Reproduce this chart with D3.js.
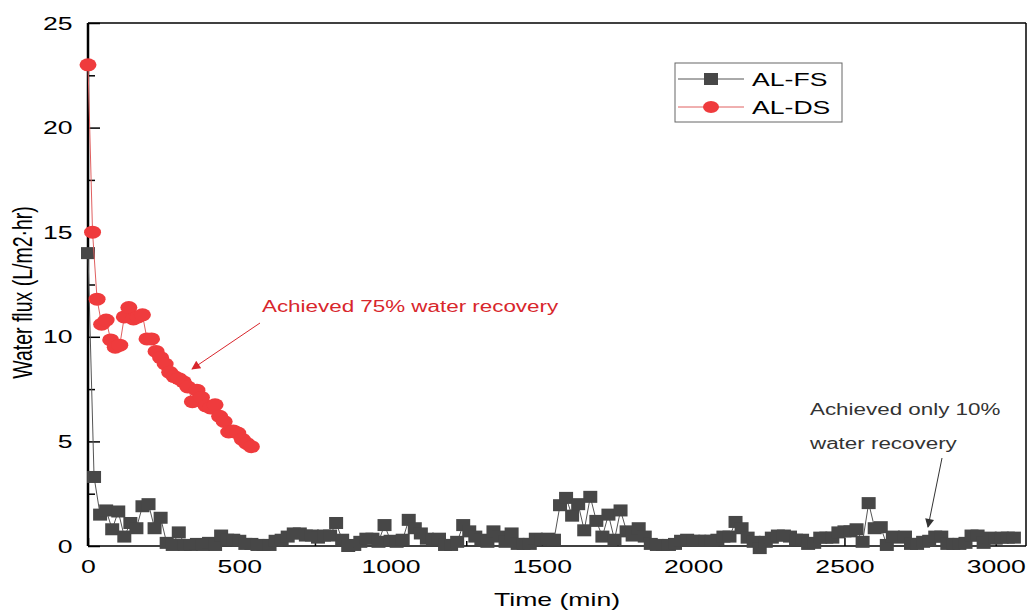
<!DOCTYPE html>
<html>
<head>
<meta charset="utf-8">
<script src="https://cdn.jsdelivr.net/npm/d3@7"></script>
<style>
  body { margin: 0; background: #fff; }
  text { font-family: "Liberation Sans", Arial, sans-serif; }
</style>
</head>
<body>
<svg width="1031" height="611"></svg>
<script>
// AL-FS: sampled every 20 min, AL-DS: every 15 min
const fsStep = 20;
const fsFlux = [
  14.0, 3.3, 1.5, 1.7, 0.8, 1.65, 0.45, 1.1, 0.85, 1.9, 2.0, 0.85, 1.35, 0.15, 0.05, 0.65, 0.05, 0.05, 0.1, 0.05, 0.15, 0.05, 0.5, 0.3, 0.3,
  0.25, 0.1, 0.1, 0.05, 0.05, 0.05, 0.25, 0.3, 0.45, 0.6, 0.6, 0.5, 0.5, 0.4, 0.5, 0.5, 1.1, 0.3, 0.0, 0.05, 0.2, 0.35, 0.35, 0.2, 1.0, 0.25,
  0.2, 0.3, 1.25, 0.85, 0.6, 0.35, 0.3, 0.35, 0.05, 0.05, 0.2, 1.0, 0.7, 0.45, 0.3, 0.2, 0.7, 0.45, 0.2, 0.6, 0.1, 0.1, 0.1, 0.35, 0.3, 0.35,
  0.3, 1.95, 2.3, 1.45, 2.0, 0.75, 2.35, 1.2, 0.45, 1.5, 0.3, 1.7, 0.7, 0.5, 0.85, 0.45, 0.1, 0.05, 0.05, 0.05, 0.1, 0.25, 0.3, 0.25, 0.25,
  0.25, 0.25, 0.3, 0.45, 0.45, 1.15, 0.85, 0.4, 0.2, -0.1, 0.2, 0.4, 0.5, 0.5, 0.45, 0.3, 0.3, 0.1, 0.15, 0.4, 0.4, 0.4, 0.65, 0.7, 0.7,
  0.8, 0.2, 2.05, 0.85, 0.9, 0.05, 0.45, 0.4, 0.45, 0.1, 0.1, 0.2, 0.25, 0.45, 0.45, 0.1, 0.1, 0.1, 0.15, 0.5, 0.5, 0.15, 0.4, 0.35, 0.4, 0.4, 0.4
];
const dsStep = 15;
const dsFlux = [
  23.0, 15.0, 11.8, 10.6, 10.8, 9.85, 9.5, 9.6, 10.95, 11.4,
  10.85, 10.95, 11.05, 9.9, 9.9, 9.3, 9.0, 8.7, 8.3, 8.1,
  8.0, 7.85, 7.6, 6.9, 7.45, 7.1, 6.7, 6.6, 6.75, 6.2,
  5.95, 5.45, 5.5, 5.4, 5.1, 4.9, 4.75
];
const seriesNames = ['AL-FS', 'AL-DS'];
const xTicks = [0, 500, 1000, 1500, 2000, 2500, 3000];
const xMinor = [250, 750, 1250, 1750, 2250, 2750];
const yTicks = [0, 5, 10, 15, 20, 25];
const yMinor = [2.5, 7.5, 12.5, 17.5, 22.5];

const svg = d3.select('svg');
const stretch = 1.4; // the original picture is widened horizontally

const margin = { top: 23, right: 5, bottom: 65, left: 88 };
const width = +svg.attr('width');
const height = +svg.attr('height');

const x = d3.scaleLinear().domain([0, 3100]).range([margin.left, width - margin.right]);
const y = d3.scaleLinear().domain([0, 25]).range([height - margin.bottom, margin.top]);

const fsData = fsFlux.map((v, i) => ({ t: i * fsStep, v }));
const dsData = dsFlux.map((v, i) => ({ t: i * dsStep, v }));

const fsColor = '#474747';
const dsColor = '#ef3b3d';

// axes (ticks point inward)
const yAxis = g => g.call(d3.axisLeft(y).tickValues(yTicks).tickSizeInner(-12).tickSizeOuter(0).tickPadding(11).tickFormat(d3.format('d')));
const yAxisMinor = g => g.call(d3.axisLeft(y).tickValues(yMinor).tickSizeInner(-7).tickSizeOuter(0).tickFormat(''));
const xAxis = g => g.call(d3.axisBottom(x).tickValues(xTicks).tickSizeInner(-8).tickSizeOuter(0).tickPadding(14).tickFormat(d3.format('d')));
const xAxisMinor = g => g.call(d3.axisBottom(x).tickValues(xMinor).tickSizeInner(-5).tickSizeOuter(0).tickFormat(''));

[[yAxis, margin.left, 0], [yAxisMinor, margin.left, 0],
 [xAxis, 0, y(0)], [xAxisMinor, 0, y(0)]].forEach(([ax, tx, ty]) => {
  const g = svg.append('g').attr('transform', `translate(${tx},${ty})`).call(ax);
  g.select('.domain').remove();
  g.selectAll('line').attr('stroke', '#000').attr('stroke-width', 1.5);
  g.selectAll('text')
    .attr('font-size', 19)
    .attr('fill', '#000')
    .attr('font-family', '"Liberation Sans", Arial, sans-serif')
    .attr('transform', `scale(${stretch},1)`);
});

// frame
const frame = svg.append('g').attr('stroke', '#000').attr('fill', 'none');
frame.append('line').attr('x1', x(0)).attr('x2', x(3100)).attr('y1', y(25)).attr('y2', y(25)).attr('stroke-width', 1.5);
frame.append('line').attr('x1', x(3100)).attr('x2', x(3100)).attr('y1', y(25)).attr('y2', y(0)).attr('stroke-width', 1.5);
frame.append('line').attr('x1', x(0)).attr('x2', x(3100)).attr('y1', y(0)).attr('y2', y(0)).attr('stroke-width', 1.5);
frame.append('line').attr('x1', x(0)).attr('x2', x(0)).attr('y1', y(25)).attr('y2', y(0)).attr('stroke-width', 2.5);

const line = d3.line().x(d => x(d.t)).y(d => y(d.v));

// AL-FS
svg.append('path').datum(fsData)
  .attr('d', line).attr('fill', 'none').attr('stroke', '#555').attr('stroke-width', 1);
svg.append('g').selectAll('rect').data(fsData)
  .enter().append('rect')
    .attr('x', d => x(d.t) - 7)
    .attr('y', d => y(d.v) - 6)
    .attr('width', 14)
    .attr('height', 12)
    .attr('fill', fsColor);

// AL-DS
svg.append('path').datum(dsData)
  .attr('d', line).attr('fill', 'none').attr('stroke', '#e06060').attr('stroke-width', 1);
svg.append('g').selectAll('ellipse').data(dsData)
  .enter().append('ellipse')
    .attr('cx', d => x(d.t))
    .attr('cy', d => y(d.v))
    .attr('rx', 8.5)
    .attr('ry', 6.5)
    .attr('fill', dsColor);

// axis titles
svg.append('text')
  .attr('transform', `translate(${(x(0) + x(3100)) / 2},606) scale(${stretch},1)`)
  .attr('text-anchor', 'middle').attr('font-size', 19)
  .text('Time (min)');
svg.append('text')
  .attr('transform', `translate(32,${(y(0) + y(25)) / 2 + 8}) rotate(-90) scale(1,${stretch})`)
  .attr('text-anchor', 'middle').attr('font-size', 19.5)
  .text('Water flux (L/m2·hr)');

// legend
const legend = svg.append('g');
legend.append('rect')
  .attr('x', 675).attr('y', 63).attr('width', 167).attr('height', 59)
  .attr('fill', '#fff').attr('stroke', '#666').attr('stroke-width', 1);
const legendRows = [
  { name: seriesNames[0], yy: 79, color: fsColor, lineColor: '#555' },
  { name: seriesNames[1], yy: 107, color: dsColor, lineColor: '#e06060' }
];
legendRows.forEach((r, i) => {
  legend.append('line').attr('x1', 678).attr('x2', 744).attr('y1', r.yy).attr('y2', r.yy)
    .attr('stroke', r.lineColor).attr('stroke-width', 1);
  if (i === 0) {
    legend.append('rect').attr('x', 711 - 7).attr('y', r.yy - 6).attr('width', 14).attr('height', 12).attr('fill', r.color);
  } else {
    legend.append('ellipse').attr('cx', 711).attr('cy', r.yy).attr('rx', 8).attr('ry', 6).attr('fill', r.color);
  }
  legend.append('text')
    .attr('transform', `translate(752,${r.yy + 7}) scale(${stretch},1)`)
    .attr('font-size', 19).attr('fill', '#000')
    .text(r.name);
});

// annotations
const defs = svg.append('defs');
[['arrRed', '#d8262c'], ['arrGray', '#333']].forEach(([id, c]) => {
  defs.append('marker').attr('id', id)
    .attr('viewBox', '0 0 10 10').attr('refX', 9).attr('refY', 5)
    .attr('markerWidth', 12).attr('markerHeight', 9).attr('markerUnits', 'userSpaceOnUse')
    .attr('orient', 'auto')
    .append('path').attr('d', 'M0,0 L10,5 L0,10 z').attr('fill', c);
});

svg.append('text')
  .attr('transform', `translate(262,312) scale(${stretch},1)`)
  .attr('font-size', 16).attr('fill', '#d8262c')
  .text('Achieved 75% water recovery');
svg.append('line')
  .attr('x1', 260).attr('y1', 323).attr('x2', 192).attr('y2', 369)
  .attr('stroke', '#d8262c').attr('stroke-width', 1)
  .attr('marker-end', 'url(#arrRed)');

svg.append('text')
  .attr('transform', `translate(810,415) scale(${stretch},1)`)
  .attr('font-size', 16).attr('fill', '#333')
  .text('Achieved only 10%');
svg.append('text')
  .attr('transform', `translate(810,449) scale(${stretch},1)`)
  .attr('font-size', 16).attr('fill', '#333')
  .text('water recovery');
svg.append('line')
  .attr('x1', 942).attr('y1', 458).attr('x2', 928).attr('y2', 527)
  .attr('stroke', '#333').attr('stroke-width', 1)
  .attr('marker-end', 'url(#arrGray)');
</script>
</body>
</html>
